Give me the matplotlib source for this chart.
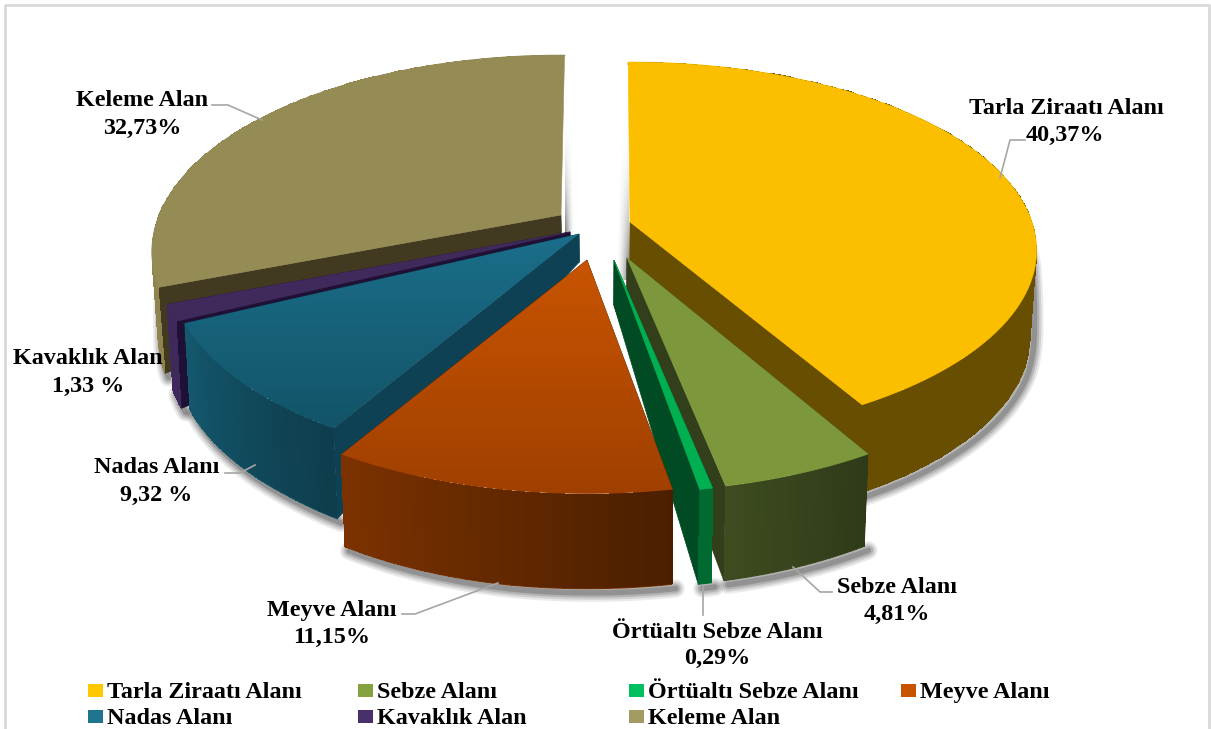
import numpy as np
import matplotlib
matplotlib.use('Agg')
import matplotlib.pyplot as plt
from matplotlib.colors import to_rgb
from matplotlib.patches import Polygon, Rectangle

names = ['Tarla Ziraatı Alanı', 'Sebze Alanı', 'Örtüaltı Sebze Alanı', 'Meyve Alanı',
         'Nadas Alanı', 'Kavaklık Alan', 'Keleme Alan']
values = [40.37, 4.81, 0.29, 11.15, 9.32, 1.33, 32.73]
value_labels = ['40,37%', '4,81%', '0,29%', '11,15%', '9,32 %', '1,33 %', '32,73%']

# look of each slice
top_a = ['#FCBF00', '#7D983C', '#00B050', '#C85400', '#1B6E8A', '#40295B', '#958B55']
top_b = ['#FCBF00', '#7D983C', '#00B050', '#A04000', '#125468', '#40295B', '#958B55']
side_a = ['#674E00', '#2F3A18', '#006A30', '#4A1F00', '#0E3D4C', '#3F295B', '#8F8450']
side_b = ['#674E00', '#3E4C20', '#006A30', '#7C3200', '#14586E', '#3F295B', '#8F8450']
face = ['#674E00', '#333E1A', '#004B24', '#5A2500', '#0F4154', '#1F1035', '#413A20']
swatch = ['#FFC800', '#86A23F', '#00BF60', '#C85400', '#1F7490', '#48316A', '#A49A63']

# slice tips in pixels, and how thick the slice looks at its tip
tips = [(630, 222), (627, 258), (614, 260), (587, 260), (579, 234), (570, 232), (561, 215)]
tip_depth = [40, 60, 45, 40, 28, 25, 20]
# the picture is drawn in perspective, slice edges are a little off the true angle
skew = [-0.3, 4.5, 5.8, 6.3, 7, 7, 7, 0.6]
persp = [0.15, 0.1875, 0.1875, 0.1875, 0.1875, 0.1875, 0.1875]

Rx, back = 402, 160

plt.rcParams['font.family'] = ['Liberation Serif', 'DejaVu Serif']
plt.rcParams['font.weight'] = 'bold'

fig = plt.figure(figsize=(12.11, 7.29), dpi=100)
ax = fig.add_axes([0, 0, 1, 1])


def rim(a, tip, k):
    a = np.radians(a)
    u, v = np.sin(a), np.cos(a)
    w = 1 + k * v
    return tip[0] + Rx * u / w, tip[1] - back * (1 + k) * v / w


def lower(x, y):
    d = np.interp(y, [50, 230, 260, 284, 408, 490], [0, 30, 80, 86, 89, 95])
    return x + (600 - x) * 0.014, y + d


def blend(c1, c2, t):
    c1, c2 = np.array(to_rgb(c1)), np.array(to_rgb(c2))
    return tuple(c1 + (c2 - c1) * t)


edges = 3.6 * np.concatenate([[0], np.cumsum(values)]) + np.array(skew)

# soft shadow under the outer rims
for i in [6, 5, 0, 4, 1, 2, 3]:
    a = np.linspace(edges[i], edges[i + 1], 80)
    x, y = rim(a, tips[i], persp[i])
    bx, by = lower(x, y)
    keep = (by > y + 25)
    for lw, al in zip([13, 10, 7, 4], [0.10, 0.14, 0.18, 0.25]):
        ax.plot(bx[keep] + 4, by[keep] + 4, color='#333333', lw=lw, alpha=al, solid_capstyle='round', zorder=1)

# shadow on the white gap beside the two big slices, stronger towards the centre
fade = np.zeros((40, 40, 4))
fade[:, :, 3] = np.outer(np.linspace(0, 1, 40) ** 2, np.linspace(0.65, 0, 40) ** 1.5)
ax.imshow(fade, extent=[565, 574, 235, 110], aspect='auto', zorder=1)
ax.imshow(fade[:, ::-1], extent=[617, 629, 280, 110], aspect='auto', zorder=1)

z = 2
for i in [6, 5, 4, 0, 1, 2, 3]:
    tip = tips[i]
    a = np.linspace(edges[i], edges[i + 1], 160)
    x, y = rim(a, tip, persp[i])
    bx, by = lower(x, y)
    tx, ty = tip[0] + (600 - tip[0]) * 0.014, tip[1] + tip_depth[i]

    # flat cut faces, the two at the back cannot be seen
    for j in [0, -1]:
        if (i == 0 and j == 0) or (i == 6 and j == -1):
            continue
        ax.add_patch(Polygon([tip, (x[j], y[j]), (bx[j], by[j]), (tx, ty)], closed=True,
                             fc=face[i], ec=face[i], lw=0.5, zorder=z))
    z += 1

    # outer wall, the colour runs along it
    cols = np.array([blend(side_a[i], side_b[i], t) for t in np.linspace(0, 1, len(a) - 1)])
    mx = np.vstack([x, bx])
    my = np.vstack([y, by])
    ax.pcolormesh(mx, my, cols.reshape(1, -1, 3), shading='flat', zorder=z)
    # smooth the lower edge of the wall
    ax.plot(bx, by, color=side_b[i], lw=0.6, zorder=z)
    z += 1

    # top
    pts = np.column_stack([np.r_[tip[0], x], np.r_[tip[1], y]])
    top = Polygon(pts, closed=True, fc=top_a[i], ec=top_a[i], lw=0.4, zorder=z)
    ax.add_patch(top)
    if top_a[i] != top_b[i]:
        n = 64
        grad = np.array([blend(top_a[i], top_b[i], t) for t in np.linspace(0, 1, n)]).reshape(n, 1, 3)
        im = ax.imshow(grad, extent=[pts[:, 0].min(), pts[:, 0].max(), pts[:, 1].max(), pts[:, 1].min()],
                       aspect='auto', zorder=z + 0.5)
        top.set_facecolor('none')
        top.set_edgecolor('none')
        im.set_clip_path(top)
    z += 1

# leader lines
leaders = [([212, 228, 262], [105, 105, 120]),
           ([1025, 1010, 1000], [140, 140, 178]),
           ([225, 240, 255], [473, 473, 465]),
           ([402, 415, 498], [614, 614, 583]),
           ([703, 703], [585, 615]),
           ([793, 820, 832], [567, 592, 592])]
for lx, ly in leaders:
    ax.plot(lx, ly, color='#A6A6A6', lw=1.2, zorder=60)

fs = 17.4
name_xy = [(1066, 108.5), (897, 587.5), (717, 632.5), (332, 610.5), (157, 467.5), (88, 358.5), (142, 100.5)]
value_xy = [(1065, 135.5), (897, 614.5), (717, 658.5), (332, 637.5), (156, 495.5), (88, 386.5), (142, 128.5)]
for i in range(len(names)):
    ax.text(name_xy[i][0], name_xy[i][1], names[i], ha='center', va='center', fontsize=fs, zorder=70)
    ax.text(value_xy[i][0], value_xy[i][1], value_labels[i], ha='center', va='center', fontsize=fs, zorder=70)

# legend
leg_x = [88, 358, 629, 901, 88, 358, 629]
leg_y = [691, 691, 691, 691, 717, 717, 717]
for i in range(len(names)):
    ax.add_patch(Rectangle((leg_x[i], leg_y[i] - 7), 15, 13, fc=swatch[i], ec='none', zorder=70))
    ax.text(leg_x[i] + 19, leg_y[i] + 1.5, names[i], ha='left', va='center', fontsize=fs, zorder=70)

# chart frame
ax.plot([5, 5, 1209, 1209], [729, 5, 5, 729], color='#D9D9D9', lw=2, zorder=0)

ax.set_xlim(0, 1211)
ax.set_ylim(729, 0)
ax.set_aspect('auto')
ax.axis('off')

fig.savefig('out.png', dpi=100)
